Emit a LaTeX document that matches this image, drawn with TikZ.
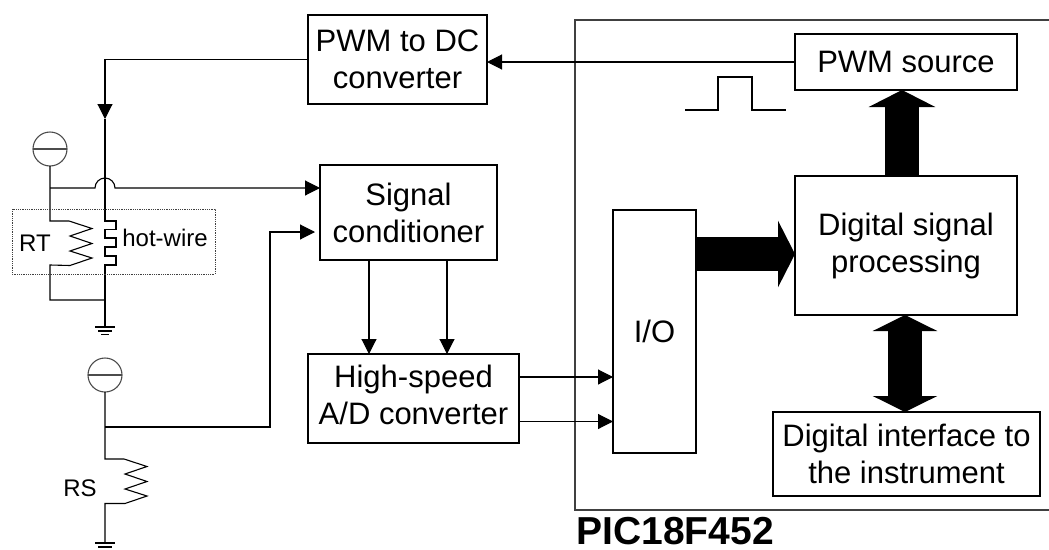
\documentclass[tikz,border=0pt]{standalone}
\usepackage{fontspec}
\setmainfont{Liberation Sans}
\usepackage{tikz}
\usetikzlibrary{calc,positioning,arrows.meta}
\begin{document}
\begin{tikzpicture}[x=1pt,y=-1pt,line width=1.1pt,
	block/.style={draw,inner sep=0pt,outer sep=0pt,align=center,font=\fontsize{31}{37}\selectfont},
	src/.style={draw,circle,inner sep=0pt,outer sep=0pt,minimum size=34pt,black!70},
	lbl/.style={inner sep=0pt,font=\fontsize{24}{28}\selectfont},
	wire/.style={-{Triangle[length=15pt,width=15pt]}},
	fat/.style={line width=34pt,-{Triangle[length=17pt,width=66pt]}},
	fatboth/.style={line width=34pt,{Triangle[length=16pt,width=64pt]}-{Triangle[length=16pt,width=64pt]}}]
		\useasboundingbox (0,0) rectangle (1049,549);

		% microcontroller frame, cut by the right margin
		\coordinate (pictop) at (1049,20);
		\coordinate (picbot) at (1049,510);
		\draw[black!75] (pictop) -- (575,20) -- (575,510) -- (picbot);
		\node[anchor=base west,inner sep=0pt,font=\fontsize{39}{39}\selectfont\bfseries] (pic) at (576,544.5) {PIC18F452};

		\node[block,minimum width=222pt,minimum height=56pt] (pwmsrc) at (906,62) {PWM source};
		\node[block,minimum width=222pt,minimum height=139pt] (dsp) [below=86pt of pwmsrc] {Digital signal\\processing};
		\node[block,minimum width=267pt,minimum height=84pt] (iface) at (906.5,454) {Digital interface to\\the instrument};
		\node[block,minimum width=83pt,minimum height=243pt] (io) at (654.5,331.5) {I/O};
		\node[block,minimum width=179pt,minimum height=89pt] (pwmdc) at (397.5,59.5) {PWM to DC\\converter};
		\node[block,minimum width=177pt,minimum height=95pt] (sig) at (408.5,212.5) {Signal\\conditioner};
		\node[block,minimum width=211pt,minimum height=89pt,text depth=7pt] (adc) at (413.5,398.5) {High-speed\\A/D converter};

		\draw[wire] (pwmsrc.west) -- (pwmsrc.west -| pwmdc.east);
		\draw[wire] ([xshift=-39.5pt]sig.south) -- ([xshift=-39.5pt]sig.south |- adc.north);
		\draw[wire] ([xshift=38.5pt]sig.south) -- ([xshift=38.5pt]sig.south |- adc.north);
		\draw[wire] ($(adc.east)+(0,-21.5)$) -- ($(adc.east -| io.west)+(0,-21.5)$);
		\draw[wire] ($(adc.east)+(0,23)$) -- ($(adc.east -| io.west)+(0,23)$);

		\draw[fat] ([yshift=-8.5pt]io.east |- dsp.west) -- ([yshift=-8.5pt]dsp.west);
		\draw[fat] ([xshift=-4pt]dsp.north) -- ([xshift=-4pt]pwmsrc.south);
		\draw[fatboth] ([xshift=-1pt]dsp.south) -- ([xshift=-1pt]dsp.south |- iface.north);

		% pulse above the I/O block
		\coordinate (pulse) at (685,110);
		\draw (pulse) -- ++(33,0) -- ++(0,-33) -- ++(34,0) -- ++(0,33) -- ++(34,0);

		% heated sensor branch
		\coordinate (feed) at (105,119);
		\coordinate (hottop) at (105,221);
		\coordinate (hotbot) at (105,265);
		\coordinate (gnda) at (105,327);
		\draw[wire] (pwmdc.west) -| (feed);
		\draw (feed) -- (hottop) -- ++(11,0) -- ++(0,8.5) -- ++(-11,0) -- ++(0,8.5) -- ++(11,0) -- ++(0,9) -- ++(-11,0) -- ++(0,9) -- ++(11,0) -- ++(0,9) -- (hotbot) -- (gnda);
		\draw (gnda) ++(-10,0) -- ++(20,0) ++(-17,4) -- ++(14,0) ++(-11,3.5) -- ++(8,0);

		\node[src] (srct) at (50,149) {};
		\draw[black!70] (srct.west) -- (srct.east);
		\coordinate (rttop) at (50,221);
		\coordinate (rtbot) at (50,265);
		\draw (srct.south) -- (rttop) -- ++(19,0) -- ++(23,7.5) -- ++(-22,7.5) -- ++(22,7.5) -- ++(-22,7.5) -- ++(22,7) -- ++(-22,7.5) -- (rtbot) -- (50,300) -- (105,300);
		\coordinate (hopa) at (95,188);
		\draw[wire] (50,188) -- (hopa) arc[start angle=180,end angle=0,radius=10pt] -- (sig.west |- hopa);
		\draw[densely dotted,line width=0.8pt,black!75] (12,209) rectangle (215,274);
		\node[lbl] (rt) at (35,243) {RT};
		\node[lbl] (hot) at (165,238) {hot-wire};

		% reference branch
		\node[src] (srcs) at (105,375) {};
		\draw[black!70] (srcs.west) -- (srcs.east);
		\coordinate (tap) at (105,427);
		\coordinate (rstop) at (105,459);
		\coordinate (gndb) at (105,543);
		\coordinate (bend) at (270,232);
		\draw (srcs.south) -- (rstop) -- ++(19,0) -- ++(23,7.5) -- ++(-22,7.5) -- ++(22,7.5) -- ++(-22,7.5) -- ++(22,7) -- ++(-22,7.5) -- ++(-20,0) -- (gndb);
		\draw (gndb) ++(-10,0) -- ++(20,0) ++(-17,4) -- ++(14,0);
		\draw[wire] (tap) -| (bend) -- ($(sig.west |- bend)+(-5,0)$);
		\node[lbl] (rs) at (80,488) {RS};
\end{tikzpicture}
\end{document}
